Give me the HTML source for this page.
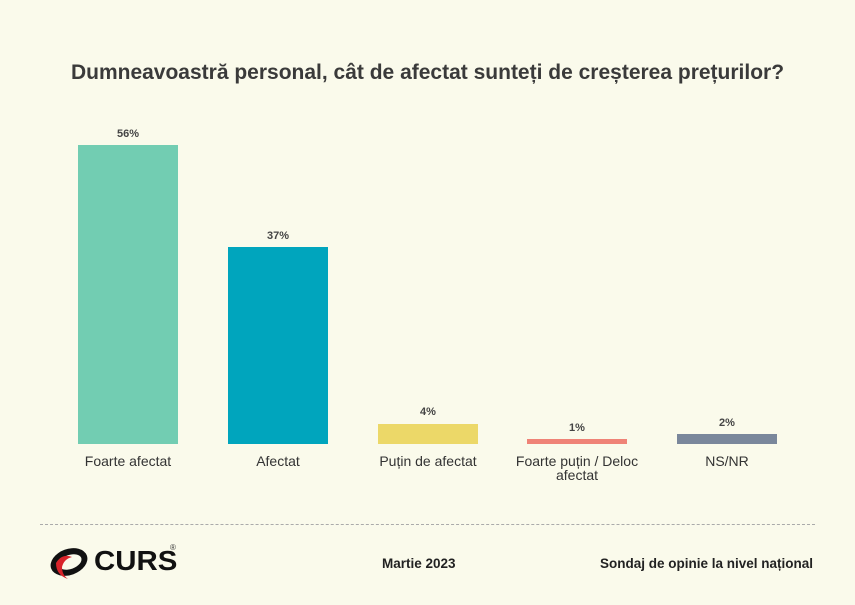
<!DOCTYPE html>
<html><head><meta charset="utf-8"><style>
body{margin:0;width:855px;height:605px;background:#fafaeb;font-family:"Liberation Sans",sans-serif;position:relative;overflow:hidden;color:#333}
.a{position:absolute}
.bar{position:absolute}
.v{position:absolute;font-size:11px;font-weight:bold;color:#444;text-align:center;width:100px}
.l{position:absolute;font-size:14px;color:#333;text-align:center;width:180px;line-height:14px}
</style></head><body>
<div class="a" style="left:0;top:61px;width:855px;text-align:center;font-size:21px;font-weight:bold;color:#3a3a3a">Dumneavoastră personal, cât de afectat sunteți de creșterea prețurilor?</div>

<div class="bar" style="left:78px;top:145px;width:100px;height:299px;background:#72cdb2"></div>
<div class="v" style="left:78px;top:128px">56%</div>
<div class="bar" style="left:228px;top:247px;width:100px;height:197px;background:#00a5bd"></div>
<div class="v" style="left:228px;top:230px">37%</div>
<div class="bar" style="left:378px;top:424px;width:100px;height:20px;background:#ecd868"></div>
<div class="v" style="left:378px;top:406px">4%</div>
<div class="bar" style="left:527px;top:439px;width:100px;height:5px;background:#ef8377"></div>
<div class="v" style="left:527px;top:422px">1%</div>
<div class="bar" style="left:677px;top:434px;width:100px;height:10px;background:#7a879b"></div>
<div class="v" style="left:677px;top:417px">2%</div>

<div class="l" style="left:38px;top:454px">Foarte afectat</div>
<div class="l" style="left:188px;top:454px">Afectat</div>
<div class="l" style="left:338px;top:454px">Puțin de afectat</div>
<div class="l" style="left:487px;top:454px">Foarte puțin / Deloc<br>afectat</div>
<div class="l" style="left:637px;top:454px">NS/NR</div>

<div class="a" style="left:40px;top:524px;width:775px;border-top:1px dashed #aaa"></div>

<svg class="a" style="left:48px;top:545px" width="42" height="36" viewBox="0 0 42 36">
<ellipse cx="21" cy="17" rx="19" ry="13" fill="#111" transform="rotate(-20 21 17)"/>
<ellipse cx="22" cy="17" rx="12" ry="7" fill="#fafaeb" transform="rotate(-20 22 17)"/>
<path d="M8 18 Q14 8 24 12 Q16 14 14 22 Q14 30 20 34 Q8 30 8 18Z" fill="#d8232a"/>
</svg>
<div class="a" style="left:94px;top:545px;font-size:28px;font-weight:900;color:#111;letter-spacing:0px;transform:scaleX(1.05);transform-origin:left">CURS</div>
<div class="a" style="left:170px;top:543px;font-size:8px;color:#333">®</div>

<div class="a" style="left:382px;top:556px;font-size:13.5px;font-weight:bold;color:#222">Martie 2023</div>
<div class="a" style="right:42px;top:556px;font-size:13.5px;font-weight:bold;color:#222">Sondaj de opinie la nivel național</div>
</body></html>
